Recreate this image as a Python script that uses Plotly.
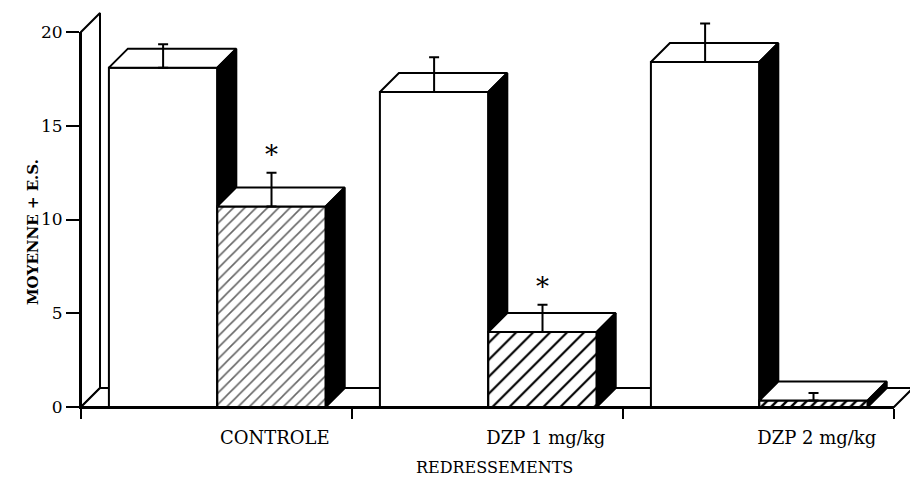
import plotly.graph_objects as go

# ---- data -------------------------------------------------------------
groups = ["CONTROLE", "DZP 1 mg/kg", "DZP 2 mg/kg"]
first_mean = [18.1, 16.8, 18.4]
first_se = [1.25, 1.85, 2.05]
second_mean = [10.7, 4.0, 0.35]
second_se = [1.8, 1.45, 0.4]
second_star = [True, True, False]
y_ticks = [0, 5, 10, 15, 20]

# ---- geometry of the page --------------------------------------------
W, H = 910, 478
X0_PX, UNIT_PX = 81, 271        # pixel of x=0, pixels per group
Y0_PX, YUNIT_PX = 407, 18.75    # pixel of y=0, pixels per unit
BAR_W = 0.4
PAD = 0.103
DX = 19 / UNIT_PX               # oblique depth of the 3-D boxes
DY = 19 / YUNIT_PX
LW = 2
N = len(groups)
LABEL_OFFSET = 0.715
FONT = "DejaVu Serif"

# patterns of the second bar of each group
second_patterns = [
    dict(shape="/", size=8, solidity=0.2, fgcolor="#666666", bgcolor="white", fgopacity=1),
    dict(shape="/", size=12, solidity=0.18, fgcolor="black", bgcolor="white", fgopacity=1),
    dict(shape="/", size=7, solidity=0.35, fgcolor="black", bgcolor="white", fgopacity=1),
]

fig = go.Figure()

# empty trace so the tick-carrying axes get drawn
fig.add_trace(go.Scatter(x=[None], y=[None], xaxis="x", yaxis="y",
                         mode="markers", hoverinfo="skip", showlegend=False))


def face(xs, ys, color="white", pattern=None):
    fig.add_trace(go.Scatter(
        x=xs + [xs[0]], y=ys + [ys[0]],
        mode="lines", fill="toself", fillcolor=color,
        fillpattern=pattern,
        line=dict(color="black", width=LW),
        xaxis="x2", yaxis="y2", hoverinfo="skip", showlegend=False))


def box(x0, value, pattern=None):
    x1 = x0 + BAR_W
    # front face
    face([x0, x1, x1, x0], [0, 0, value, value], "white", pattern)
    # top face
    face([x0, x1, x1 + DX, x0 + DX], [value, value, value + DY, value + DY])
    # shaded side face
    face([x1, x1 + DX, x1 + DX, x1], [0, DY, value + DY, value], "black")


# back wall and floor
face([0, 0, DX, DX], [0, y_ticks[-1], y_ticks[-1] + DY, DY])
face([0, N, N + DX, DX], [0, 0, DY, DY])

centers1, centers2 = [], []
for i in range(N):
    xa = i + PAD
    xb = xa + BAR_W
    box(xa, first_mean[i])
    box(xb, second_mean[i], second_patterns[i])
    centers1.append(xa + BAR_W / 2)
    centers2.append(xb + BAR_W / 2)

# error bars (mean + S.E.)
for cx, m, se in ((centers1, first_mean, first_se), (centers2, second_mean, second_se)):
    fig.add_trace(go.Scatter(
        x=cx, y=m, mode="markers",
        marker=dict(size=1, color="black"),
        error_y=dict(type="data", array=se, arrayminus=[0] * len(se),
                     symmetric=False, color="black", thickness=LW, width=5),
        xaxis="x2", yaxis="y2", hoverinfo="skip", showlegend=False))

# significance stars
for cx, m, se, star in zip(centers2, second_mean, second_se, second_star):
    if star:
        fig.add_annotation(x=cx, y=m + se, xref="x2", yref="y2", text="*",
                           showarrow=False, yanchor="middle", yshift=18,
                           font=dict(family=FONT, size=26, color="black"))

# axis titles
fig.add_annotation(text="MOYENNE + E.S.", textangle=-90, x=33 / W, y=(H - 232) / H,
                   xref="paper", yref="paper", xanchor="center", yanchor="middle",
                   showarrow=False,
                   font=dict(family=FONT, size=15, color="black", weight="bold"))
fig.add_annotation(text="REDRESSEMENTS", x=495 / W, y=(H - 467) / H,
                   xref="paper", yref="paper", xanchor="center", yanchor="middle",
                   showarrow=False,
                   font=dict(family=FONT, size=16, color="black"))

fig.update_layout(
    width=W, height=H, autosize=False,
    margin=dict(l=0, r=0, t=0, b=0, autoexpand=False),
    paper_bgcolor="white", plot_bgcolor="rgba(0,0,0,0)",
    showlegend=False,
    # axes carrying the ticks and labels
    xaxis=dict(domain=[X0_PX / W, (X0_PX + N * UNIT_PX) / W], range=[0, N],
               anchor="y", showline=True, linecolor="black", linewidth=LW,
               showgrid=False, zeroline=False, automargin=False,
               tickvals=[i + LABEL_OFFSET for i in range(N)], ticktext=groups,
               ticks="", ticklabelstandoff=13,
               tickfont=dict(family=FONT, size=18, color="black"),
               minor=dict(tickmode="array", tickvals=list(range(N + 1)),
                          ticks="outside", ticklen=10, tickwidth=LW,
                          tickcolor="black", showgrid=False),
               fixedrange=True),
    yaxis=dict(domain=[(H - Y0_PX) / H, (H - Y0_PX + y_ticks[-1] * YUNIT_PX) / H],
               range=[0, y_ticks[-1]], anchor="x",
               showline=True, linecolor="black", linewidth=LW,
               showgrid=False, zeroline=False, automargin=False,
               tickvals=y_ticks, ticks="outside", ticklen=13, tickwidth=LW,
               tickcolor="black",
               tickfont=dict(family=FONT, size=17, color="black"),
               fixedrange=True),
    # full-page axes for the 3-D boxes, same scale as above
    xaxis2=dict(domain=[0, 1], range=[-X0_PX / UNIT_PX, (W - X0_PX) / UNIT_PX],
                anchor="y2", visible=False, fixedrange=True),
    yaxis2=dict(domain=[0, 1], range=[-(H - Y0_PX) / YUNIT_PX, Y0_PX / YUNIT_PX],
                anchor="x2", visible=False, fixedrange=True),
)

fig.write_html("out.html")
